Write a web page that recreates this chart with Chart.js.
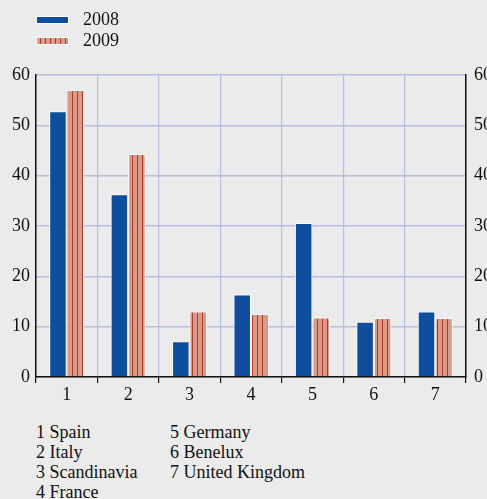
<!DOCTYPE html>
<html lang="en">
<head>
  <meta charset="UTF-8" />
  <title>Bars 2008 / 2009</title>
  <script src="https://cdn.jsdelivr.net/npm/chart.js"></script>
  <style>
    * { box-sizing: border-box; margin: 0; padding: 0; }
    body {
      width: 487px;
      height: 499px;
      background: #ebebeb;
      font-family: 'Liberation Serif';
      color: #111;
      overflow: hidden;
      position: relative;
    }
    .chart-box {
      position: absolute;
      left: 0;
      top: 0;
      width: 500px;
      height: 420px;
    }
    .legend {
      position: absolute;
      left: 36px;
      top: 9px;
      font-size: 18px;
      line-height: 21px;
    }
    .legend div { display: flex; align-items: center; }
    .swatch {
      display: inline-block;
      width: 33px;
      height: 8px;
      margin-right: 14px;
      border: 1px solid #fff;
    }
    .s2008 { background: #0d4f9e; }
    .s2009 {
      background: repeating-linear-gradient(90deg, #d99a87 0 3px, #b0392b 3px 4px, #d99a87 4px 5px);
    }
    .notes {
      position: absolute;
      left: 36px;
      top: 422px;
      font-size: 18px;
      line-height: 20px;
      display: grid;
      grid-template-columns: 134px auto;
    }
  </style>
</head>
<body>
  <div class="chart-box"><canvas id="chart" width="500" height="420"></canvas></div>
  <div class="legend">
    <div><span class="swatch s2008"></span>2008</div>
    <div><span class="swatch s2009"></span>2009</div>
  </div>
  <div class="notes" id="notes"></div>

  <script>
// data
const categories = ['1', '2', '3', '4', '5', '6', '7'];
const countries = ['Spain', 'Italy', 'Scandinavia', 'France', 'Germany', 'Benelux', 'United Kingdom'];
const values2008 = [52.8, 36.3, 7.1, 16.4, 30.6, 11.0, 13.0];
const values2009 = [57.0, 44.3, 13.0, 12.5, 11.8, 11.7, 11.7];
const yTicks = [0, 10, 20, 30, 40, 50, 60];

const BLUE = '#0d4f9e';
const SALMON = '#d99a87';
const STRIPE = '#b0392b';
const GRID = '#b6bde2';

// striped fill for 2009
function stripePattern() {
  const c = document.createElement('canvas');
  c.width = 5;
  c.height = 10;
  const g = c.getContext('2d');
  g.fillStyle = SALMON;
  g.fillRect(0, 0, 5, 10);
  g.fillStyle = STRIPE;
  g.fillRect(2, 0, 1, 10);
  return g.createPattern(c, 'repeat');
}

// footnote list under the chart
const notes = document.getElementById('notes');
const order = [0, 4, 1, 5, 2, 6, 3];
order.forEach(i => {
  const d = document.createElement('div');
  d.textContent = `${i + 1} ${countries[i]}`;
  notes.appendChild(d);
});

const font = { family: 'Liberation Serif', size: 18 };

new Chart(document.getElementById('chart'), {
  type: 'bar',
  data: {
    labels: categories,
    datasets: [
      {
        label: '2008',
        data: values2008,
        backgroundColor: BLUE,
        borderColor: '#ffffff',
        borderWidth: 1,
        borderSkipped: 'bottom',
        categoryPercentage: 0.57,
        barPercentage: 1
      },
      {
        label: '2009',
        data: values2009,
        backgroundColor: stripePattern(),
        borderColor: '#ffffff',
        borderWidth: 1,
        borderSkipped: 'bottom',
        categoryPercentage: 0.57,
        barPercentage: 1
      }
    ]
  },
  options: {
    responsive: false,
    animation: false,
    events: [],
    layout: { padding: { top: 75, left: 0, right: 0, bottom: 0 } },
    plugins: {
      legend: { display: false },
      tooltip: { enabled: false }
    },
    scales: {
      x: {
        offset: true,
        grid: {
          offset: true,
          color: GRID,
          lineWidth: 1.2,
          tickColor: '#111',
          tickLength: 6,
          drawOnChartArea: true
        },
        border: { color: '#111', width: 1.5 },
        ticks: { color: '#111', font: font, padding: 1 },
        afterFit: s => { s.height = 43; }
      },
      y: {
        position: 'left',
        min: 0,
        max: 60,
        afterBuildTicks: s => { s.ticks = yTicks.map(v => ({ value: v })); },
        grid: { color: GRID, lineWidth: 1.5, drawTicks: false },
        border: { color: '#111', width: 1.5 },
        ticks: { color: '#111', font: font, padding: 6 },
        afterFit: s => { s.width = 36; }
      },
      y2: {
        position: 'right',
        min: 0,
        max: 60,
        afterBuildTicks: s => { s.ticks = yTicks.map(v => ({ value: v })); },
        grid: { display: false, drawTicks: false },
        border: { color: '#111', width: 1.5 },
        ticks: { color: '#111', font: font, padding: 8 },
        afterFit: s => { s.width = 34; }
      }
    }
  }
});
  </script>
</body>
</html>
